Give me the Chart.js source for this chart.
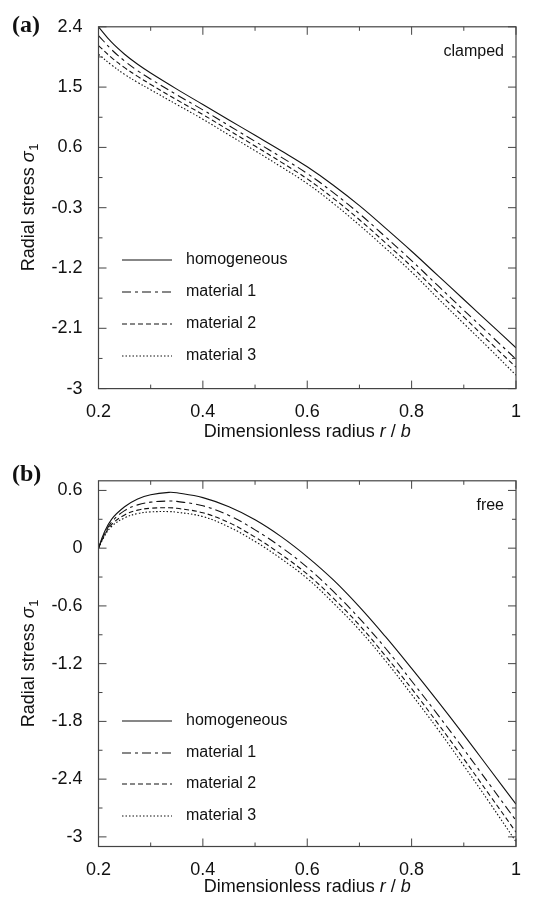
<!DOCTYPE html>
<html lang="en">
<head>
  <meta charset="UTF-8" />
  <title>Radial stress</title>
  <script src="https://cdn.jsdelivr.net/npm/chart.js"></script>
  <style>
    body { margin: 0; background: #fff; }
    .panel { position: absolute; left: 0; width: 534px; height: 454px; }
    #wrapA { top: 0; }
    #wrapB { top: 454px; }
  </style>
</head>
<body>
  <div class="panel" id="wrapA"><canvas id="chartA" width="534" height="454"></canvas></div>
  <div class="panel" id="wrapB"><canvas id="chartB" width="534" height="454"></canvas></div>

  <script>
    const seriesNames = ['homogeneous', 'material 1', 'material 2', 'material 3'];

    // (a) clamped
    const rClamped = [0.2, 0.225, 0.25, 0.275, 0.3, 0.35, 0.4, 0.45, 0.5, 0.55, 0.6, 0.65, 0.7, 0.75, 0.8, 0.85, 0.9, 0.95, 1.0];
    const homClamped  = [2.40, 2.17, 1.99, 1.84, 1.71, 1.47, 1.24, 1.01, 0.78, 0.55, 0.31, 0.035, -0.27, -0.605, -0.95, -1.31, -1.67, -2.03, -2.39];
    const mat1Clamped = [2.27, 2.06, 1.89, 1.745, 1.62, 1.385, 1.16, 0.925, 0.69, 0.455, 0.21, -0.075, -0.39, -0.735, -1.09, -1.46, -1.83, -2.195, -2.56];
    const mat2Clamped = [2.12, 1.94, 1.79, 1.66, 1.54, 1.31, 1.09, 0.855, 0.62, 0.38, 0.13, -0.16, -0.48, -0.825, -1.18, -1.56, -1.93, -2.31, -2.68];
    const mat3Clamped = [1.99, 1.83, 1.69, 1.57, 1.46, 1.24, 1.02, 0.785, 0.55, 0.31, 0.06, -0.235, -0.56, -0.905, -1.26, -1.65, -2.03, -2.41, -2.80];

    // (b) free
    const rFree = [0.2, 0.21, 0.225, 0.25, 0.275, 0.3, 0.335, 0.35, 0.4, 0.45, 0.5, 0.55, 0.6, 0.65, 0.7, 0.75, 0.8, 0.85, 0.9, 0.95, 1.0];
    const homFree  = [0, 0.15, 0.30, 0.43, 0.51, 0.555, 0.58, 0.575, 0.525, 0.43, 0.295, 0.12, -0.09, -0.33, -0.61, -0.92, -1.25, -1.59, -1.94, -2.30, -2.66];
    const mat1Free = [0, 0.13, 0.27, 0.39, 0.45, 0.478, 0.49, 0.486, 0.44, 0.34, 0.19, 0.01, -0.20, -0.45, -0.73, -1.04, -1.38, -1.73, -2.09, -2.46, -2.83];
    const mat2Free = [0, 0.12, 0.245, 0.345, 0.395, 0.415, 0.42, 0.414, 0.368, 0.265, 0.115, -0.065, -0.27, -0.52, -0.80, -1.12, -1.46, -1.82, -2.19, -2.57, -2.95];
    const mat3Free = [0, 0.11, 0.225, 0.315, 0.36, 0.377, 0.38, 0.374, 0.328, 0.22, 0.07, -0.11, -0.315, -0.57, -0.85, -1.17, -1.52, -1.88, -2.26, -2.65, -3.05];

    // ticks
    const xTicks = [0.2, 0.4, 0.6, 0.8, 1];
    const xMinor = [0.3, 0.5, 0.7, 0.9];
    const yTicksClamped = [2.4, 1.5, 0.6, -0.3, -1.2, -2.1, -3];
    const yMinorClamped = [1.95, 1.05, 0.15, -0.75, -1.65, -2.55];
    const yTicksFree = [0.6, 0, -0.6, -1.2, -1.8, -2.4, -3];
    const yMinorFree = [0.3, -0.3, -0.9, -1.5, -2.1, -2.7];

    const dashes = [[], [9, 4, 3, 4], [5, 3], [1.5, 2]];
    const SANS = '"Liberation Sans", Arial, Helvetica, sans-serif';
    const INK = '#111';

    const decor = {
      id: 'decor',
      afterDraw(chart, args, o) {
        const ctx = chart.ctx, a = chart.chartArea;
        const xs = chart.scales.x, ys = chart.scales.y;
        ctx.save();
        // frame
        ctx.strokeStyle = '#444';
        ctx.lineWidth = 1.2;
        ctx.setLineDash([]);
        ctx.strokeRect(a.left, a.top, a.right - a.left, a.bottom - a.top);
        // inward ticks on all four sides
        const xtick = (vals, len) => {
          vals.forEach(v => {
            const px = xs.getPixelForValue(v);
            ctx.beginPath();
            ctx.moveTo(px, a.bottom); ctx.lineTo(px, a.bottom - len);
            ctx.moveTo(px, a.top); ctx.lineTo(px, a.top + len);
            ctx.stroke();
          });
        };
        const ytick = (vals, len) => {
          vals.forEach(v => {
            const py = ys.getPixelForValue(v);
            ctx.beginPath();
            ctx.moveTo(a.left, py); ctx.lineTo(a.left + len, py);
            ctx.moveTo(a.right, py); ctx.lineTo(a.right - len, py);
            ctx.stroke();
          });
        };
        ctx.lineWidth = 1;
        xtick(xTicks, 8); xtick(xMinor, 4);
        ytick(o.yMajor, 8); ytick(o.yMinor, 4);

        // legend
        chart.data.datasets.forEach((ds, i) => {
          const y = o.legendY[i];
          ctx.strokeStyle = INK;
          ctx.lineWidth = 1.1;
          ctx.setLineDash(ds.borderDash);
          ctx.beginPath();
          ctx.moveTo(122, y); ctx.lineTo(172, y);
          ctx.stroke();
          ctx.setLineDash([]);
          ctx.fillStyle = INK;
          ctx.font = '16px ' + SANS;
          ctx.textAlign = 'left';
          ctx.textBaseline = 'middle';
          ctx.fillText(ds.label, 186, y);
        });

        // corner label and panel letter
        ctx.fillStyle = INK;
        ctx.font = '16px ' + SANS;
        ctx.textAlign = 'right';
        ctx.textBaseline = 'middle';
        ctx.fillText(o.corner, 504, 52);
        ctx.font = 'bold 24px "Liberation Serif", "Times New Roman", serif';
        ctx.textAlign = 'left';
        ctx.fillText(o.letter, 12, o.letterY);

        // x title with italic r and b
        const parts = [['Dimensionless radius ', ''], ['r', 'italic '], [' / ', ''], ['b', 'italic ']];
        let w = 0;
        parts.forEach(p => { ctx.font = p[1] + '18px ' + SANS; w += ctx.measureText(p[0]).width; });
        let x = (a.left + a.right) / 2 - w / 2;
        parts.forEach(p => {
          ctx.font = p[1] + '18px ' + SANS;
          ctx.fillText(p[0], x, o.titleY);
          x += ctx.measureText(p[0]).width;
        });

        // y title, rotated
        ctx.translate(29, (a.top + a.bottom) / 2);
        ctx.rotate(-Math.PI / 2);
        ctx.font = '18px ' + SANS;
        const t1 = 'Radial stress ';
        const w1 = ctx.measureText(t1).width;
        ctx.font = 'italic 18px ' + SANS;
        const w2 = ctx.measureText('σ').width;
        ctx.font = '13px ' + SANS;
        const w3 = ctx.measureText('1').width;
        let sx = -(w1 + w2 + w3) / 2;
        ctx.font = '18px ' + SANS;
        ctx.fillText(t1, sx, 0); sx += w1;
        ctx.font = 'italic 18px ' + SANS;
        ctx.fillText('σ', sx, 0); sx += w2;
        ctx.font = '13px ' + SANS;
        ctx.fillText('1', sx + 0.5, 5);
        ctx.restore();
      }
    };

    function makeChart(id, r, series, yMin, yMax, yMajor, yMinor, top, bottom, extra) {
      return new Chart(document.getElementById(id), {
        type: 'line',
        data: {
          datasets: series.map((vals, i) => ({
            label: seriesNames[i],
            data: r.map((x, j) => ({ x: x, y: vals[j] })),
            borderColor: INK,
            borderWidth: 1.1,
            borderDash: dashes[i],
            pointRadius: 0,
            tension: 0.4,
            fill: false
          }))
        },
        options: {
          responsive: false,
          animation: false,
          layout: { padding: { left: 0, right: 6, top: top, bottom: 0 } },
          plugins: {
            legend: { display: false },
            tooltip: { enabled: false },
            decor: Object.assign({ yMajor: yMajor, yMinor: yMinor }, extra)
          },
          scales: {
            x: {
              type: 'linear', min: 0.2, max: 1,
              afterBuildTicks: s => { s.ticks = xTicks.map(v => ({ value: v })); },
              afterFit: s => { s.height = 454 - bottom; },
              grid: { display: false, drawTicks: false },
              border: { display: false },
              ticks: { color: INK, font: { size: 18, family: SANS }, padding: 13, maxRotation: 0,
                       callback: v => String(v) }
            },
            y: {
              type: 'linear', min: yMin, max: yMax,
              afterBuildTicks: s => { s.ticks = yMajor.map(v => ({ value: v })); },
              afterFit: s => { s.width = 98.5; },
              grid: { display: false, drawTicks: false },
              border: { display: false },
              ticks: { color: INK, font: { size: 18, family: SANS }, padding: 16,
                       callback: v => String(v) }
            }
          }
        },
        plugins: [decor]
      });
    }

    makeChart('chartA', rClamped, [homClamped, mat1Clamped, mat2Clamped, mat3Clamped],
      -3, 2.4, yTicksClamped, yMinorClamped, 20.3, 388.6,
      { legendY: [260, 292, 324, 356], corner: 'clamped', letter: '(a)', letterY: 26, titleY: 432 });

    makeChart('chartB', rFree, [homFree, mat1Free, mat2Free, mat3Free],
      -3.1, 0.7, yTicksFree, yMinorFree, 23.7, 392.5,
      { legendY: [267, 299, 330, 362], corner: 'free', letter: '(b)', letterY: 21, titleY: 433 });
  </script>
</body>
</html>
